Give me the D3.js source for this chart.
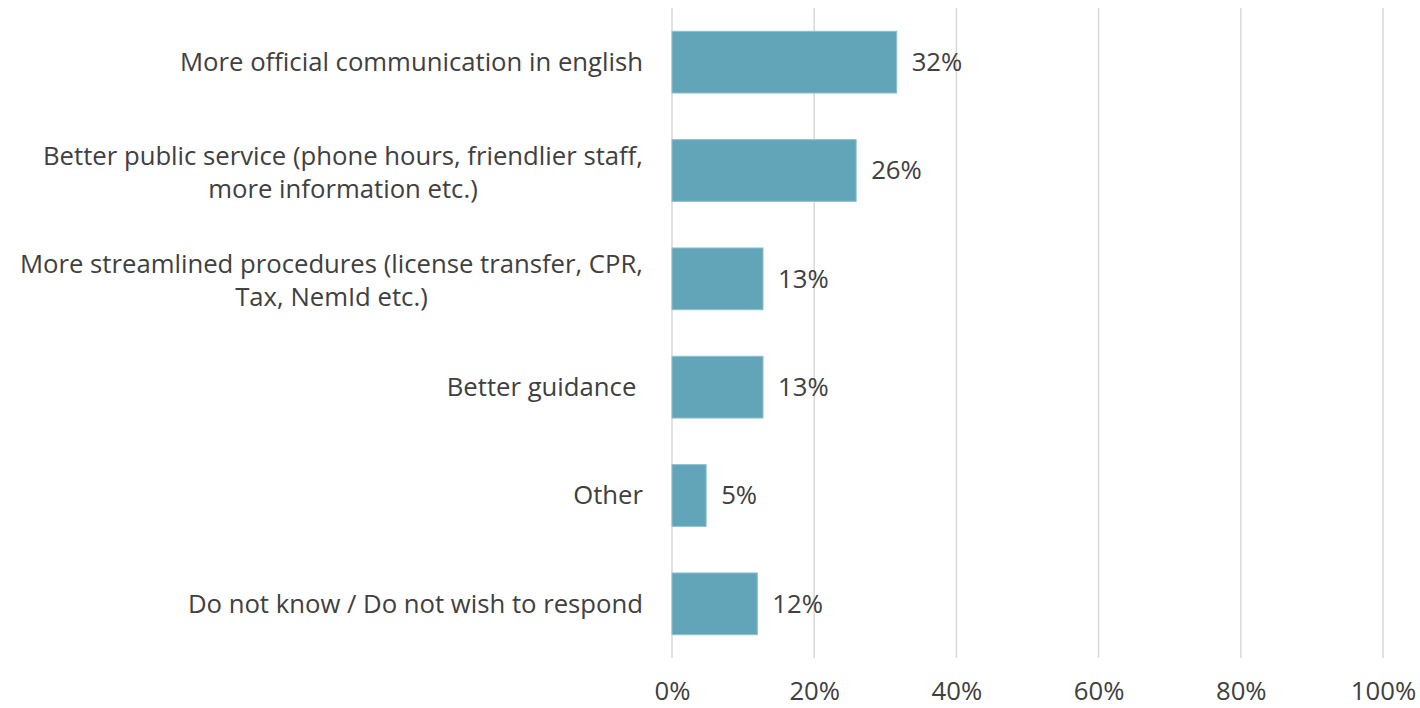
<!DOCTYPE html>
<html>
<head>
<meta charset="utf-8">
<script src="https://cdn.jsdelivr.net/npm/d3@7"></script>
<style>
  body { margin: 0; background: #fff; }
  svg text { font-family: "Open Sans", Lato, sans-serif; fill: #404040; white-space: pre; }
</style>
</head>
<body>
<svg id="chart" width="1420" height="708"></svg>
<script>
const categories = [
  ["More official communication in english"],
  ["Better public service (phone hours, friendlier staff,", "more information etc.)"],
  ["More streamlined procedures (license transfer, CPR,", "Tax, NemId etc.)"],
  ["Better guidance "],
  ["Other"],
  ["Do not know / Do not wish to respond"]
]
const values = [31.6, 25.9, 12.8, 12.8, 4.8, 12.0]
const valueLabels = ["32%", "26%", "13%", "13%", "5%", "12%"]
const xTicks = [0, 20, 40, 60, 80, 100]

const fontSize = 25.7

const svg = d3.select("#chart")
const margin = { top: 8, right: 37, bottom: 50, left: 672 }
const width = 1420 - margin.left - margin.right
const height = 708 - margin.top - margin.bottom

const g = svg.append("g").attr("transform", `translate(${margin.left},${margin.top})`)

const x = d3.scaleLinear().domain([0, 100]).range([0, width])
const y = d3.scaleBand().domain(d3.range(categories.length)).range([0, height]).paddingInner(0.43).paddingOuter(0.215)

// gridlines
g.append("g")
  .selectAll("line")
  .data(xTicks)
  .join("line")
  .attr("x1", (d) => x(d))
  .attr("x2", (d) => x(d))
  .attr("y1", 0)
  .attr("y2", height)
  .attr("stroke", "#d9d9d9")
  .attr("stroke-width", 1.5)

// x axis labels
const xAxis = g.append("g")
  .attr("transform", `translate(0,${height})`)
  .call(d3.axisBottom(x).tickValues(xTicks).tickFormat((d) => d + "%").tickSize(0).tickPadding(24))
xAxis.select(".domain").remove()
xAxis.selectAll("text").style("font-size", fontSize + "px").attr("fill", "#404040")

// bars
g.append("g")
  .selectAll("rect")
  .data(values)
  .join("rect")
  .attr("x", x(0))
  .attr("y", (d, i) => y(i))
  .attr("width", (d) => x(d) - x(0))
  .attr("height", y.bandwidth())
  .attr("fill", "#62a5b8")
  .attr("stroke", "#8fc0cd")
  .attr("stroke-width", 1)

// value labels
g.append("g")
  .selectAll("text")
  .data(values)
  .join("text")
  .attr("x", (d) => x(d) + 15)
  .attr("y", (d, i) => y(i) + y.bandwidth() / 2)
  .attr("dy", "0.35em")
  .style("font-size", fontSize + "px")
  .text((d, i) => valueLabels[i])

// category labels
const lineH = 33
const catLabels = g.append("g")
  .selectAll("text")
  .data(categories)
  .join("text")
  .attr("text-anchor", "middle")
  .style("font-size", fontSize + "px")
  .attr("y", (d, i) => y(i) + y.bandwidth() / 2)

catLabels.each(function (lines) {
  const t = d3.select(this)
  lines.forEach((line, j) => {
    t.append("tspan")
      .attr("dy", j === 0 ? `${0.35 * fontSize - (lines.length - 1) * (lineH / 2 - 2)}px` : `${lineH}px`)
      .text(line)
  })
})

// right-align the block, lines centred on each other
catLabels.each(function () {
  const t = d3.select(this)
  const tspans = t.selectAll("tspan")
  let maxW = 0
  tspans.each(function () { maxW = Math.max(maxW, this.getComputedTextLength()) })
  tspans.attr("x", -29 - maxW / 2)
})
</script>
</body>
</html>
